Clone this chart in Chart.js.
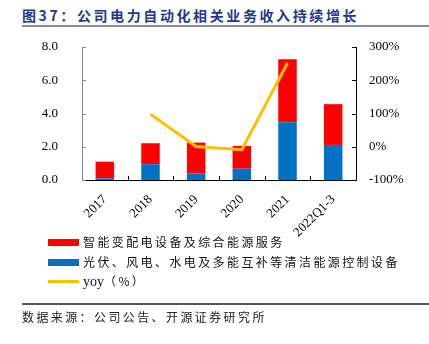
<!DOCTYPE html>
<html>
<head>
<meta charset="utf-8">
<script src="https://cdn.jsdelivr.net/npm/chart.js@4/dist/chart.umd.min.js"></script>
<style>
  body { margin: 0; width: 429px; height: 344px; background: #fff; position: relative; overflow: hidden; }
  #c { position: absolute; left: 0; top: 0; }
  .title { position: absolute; left: 22px; top: 5px; font: bold 14px "Noto Sans CJK SC"; letter-spacing: 2.6px; color: #1f3a86; }
  .rule1 { position: absolute; left: 22px; right: 0; top: 25px; height: 2px; background: #8c8c8c; }
  .rule2 { position: absolute; left: 22px; right: 0; top: 303px; height: 1.5px; background: #555; }
  .src { position: absolute; left: 22px; top: 308px; font: 12px "Noto Sans CJK SC"; letter-spacing: 2.4px; color: #222; }
  .legend { position: absolute; left: 48px; top: 233px; font: 12px "Noto Sans CJK SC"; letter-spacing: 2.4px; color: #111; }
  .legend div { height: 19.5px; line-height: 17px; white-space: nowrap; }
  .legend span.box { display: inline-block; width: 31px; height: 7px; margin-right: 4px; vertical-align: 1px; }
  .legend span.ln { display: inline-block; width: 31px; height: 3px; margin-right: 4px; vertical-align: 3px; }
  .legend .en { font-family: "Liberation Serif"; font-size: 14px; letter-spacing: 0; }
</style>
</head>
<body>
<div class="title">图37：公司电力自动化相关业务收入持续增长</div>
<div class="rule1"></div>
<canvas id="c" width="429" height="344"></canvas>
<div class="legend">
  <div><span class="box" style="background:#ff0000"></span>智能变配电设备及综合能源服务</div>
  <div><span class="box" style="background:#0070c0"></span>光伏、风电、水电及多能互补等清洁能源控制设备</div>
  <div><span class="ln" style="background:#ffc000"></span><span class="en">yoy</span>（%）</div>
</div>
<div class="rule2"></div>
<div class="src">数据来源：公司公告、开源证券研究所</div>
<script>
const categories = ['2017', '2018', '2019', '2020', '2021', '2022Q1-3'];
const cleanEnergy = [0.10, 0.95, 0.40, 0.68, 3.48, 2.11];
const smartGrid = [1.00, 1.26, 1.85, 1.37, 3.79, 2.45];
const yoy = [null, 98, 1, -9, 252, null];
const leftTicks = [0, 2, 4, 6, 8];
const rightTicks = [-100, 0, 100, 200, 300];

const serif = { family: 'Liberation Serif', size: 13 };

// inward tick marks like the original
const innerTicks = {
  id: 'innerTicks',
  afterDraw(chart) {
    const { ctx, chartArea: a, scales } = chart;
    ctx.save();
    ctx.lineWidth = 1;
    ctx.strokeStyle = '#888';
    leftTicks.forEach(v => {
      const y = Math.round(scales.y.getPixelForValue(v)) + 0.5;
      ctx.beginPath(); ctx.moveTo(a.left, y); ctx.lineTo(a.left + 4, y); ctx.stroke();
    });
    ctx.strokeStyle = '#000';
    rightTicks.forEach(v => {
      const y = Math.round(scales.y1.getPixelForValue(v)) + 0.5;
      ctx.beginPath(); ctx.moveTo(a.right, y); ctx.lineTo(a.right - 4, y); ctx.stroke();
    });
    const step = scales.x.getPixelForValue(1) - scales.x.getPixelForValue(0);
    for (let i = 1; i < categories.length; i++) {
      const x = Math.round(scales.x.getPixelForValue(i) - step / 2) + 0.5;
      ctx.beginPath(); ctx.moveTo(x, a.bottom); ctx.lineTo(x, a.bottom - 4); ctx.stroke();
    }
    ctx.restore();
  }
};

new Chart(document.getElementById('c'), {
  type: 'bar',
  data: {
    labels: categories,
    datasets: [
      { label: '光伏、风电、水电及多能互补等清洁能源控制设备', data: cleanEnergy, backgroundColor: '#0070c0', stack: 's', order: 1 },
      { label: '智能变配电设备及综合能源服务', data: smartGrid, backgroundColor: '#ff0000', stack: 's', order: 1 },
      { type: 'line', label: 'yoy（%）', data: yoy, yAxisID: 'y1', borderColor: '#ffc000', borderWidth: 3, pointRadius: 0, tension: 0, order: 0, spanGaps: false }
    ]
  },
  options: {
    responsive: false,
    devicePixelRatio: 1,
    animation: false,
    layout: { padding: { top: 47, left: 0, right: 0, bottom: 0 } },
    datasets: { bar: { categoryPercentage: 1, barPercentage: 0.405 } },
    plugins: { legend: { display: false }, tooltip: { enabled: false } },
    scales: {
      x: {
        stacked: true,
        afterFit: s => { s.height = 164; },
        grid: { display: false, drawTicks: false },
        border: { display: true, color: '#000', width: 1 },
        ticks: { font: serif, color: '#000', minRotation: 45, maxRotation: 45, padding: 12 }
      },
      y: {
        stacked: true,
        min: 0, max: 8,
        afterFit: s => { s.width = 82; },
        afterBuildTicks: s => { s.ticks = leftTicks.map(v => ({ value: v })); },
        grid: { display: false, drawTicks: false },
        border: { display: true, color: '#888', width: 1 },
        ticks: { font: serif, color: '#000', padding: 24, callback: v => v.toFixed(1) }
      },
      y1: {
        position: 'right',
        min: -100, max: 300,
        afterFit: s => { s.width = 73; },
        afterBuildTicks: s => { s.ticks = rightTicks.map(v => ({ value: v })); },
        grid: { display: false, drawTicks: false },
        border: { display: true, color: '#000', width: 1 },
        ticks: { font: serif, color: '#000', padding: 13, callback: v => v + '%' }
      }
    }
  },
  plugins: [innerTicks]
});
</script>
</body>
</html>
